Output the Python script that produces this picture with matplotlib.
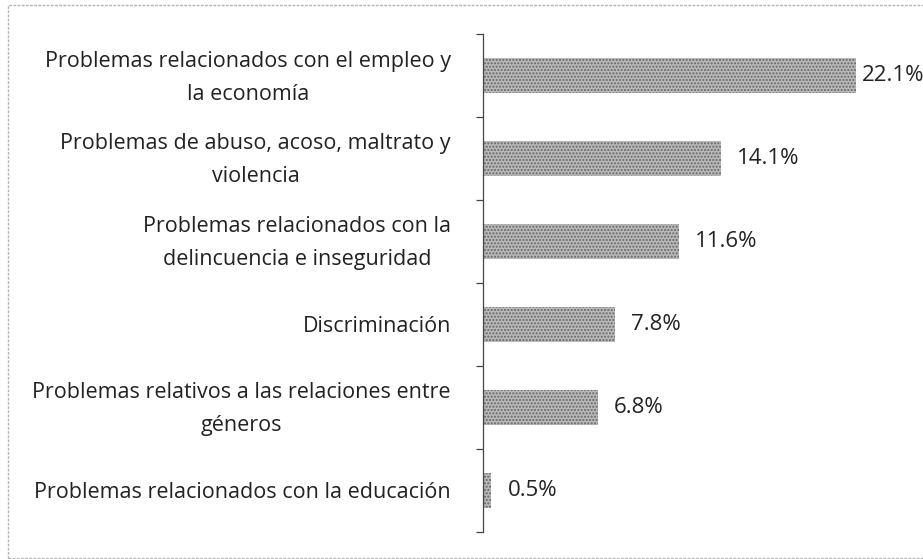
import matplotlib
matplotlib.use("Agg")
import matplotlib.pyplot as plt
from matplotlib.patches import Rectangle

categories = [
    "Problemas relacionados con el empleo y\nla economía",
    "Problemas de abuso, acoso, maltrato y\nviolencia",
    "Problemas relacionados con la\ndelincuencia e inseguridad",
    "Discriminación",
    "Problemas relativos a las relaciones entre\ngéneros",
    "Problemas relacionados con la educación",
]
values = [22.1, 14.1, 11.6, 7.8, 6.8, 0.5]
value_labels = ["22.1%", "14.1%", "11.6%", "7.8%", "6.8%", "0.5%"]

plt.rcParams['font.family'] = ['Open Sans', 'DejaVu Sans']
FS = 15.5
FSV = 16
W, H = 923, 559
fig = plt.figure(figsize=(W / 100, H / 100), dpi=100)

ax_left, ax_right, ax_top, ax_bottom = 483, 923, 34, 532
ax = fig.add_axes([ax_left / W, (H - ax_bottom) / H, (ax_right - ax_left) / W, (ax_bottom - ax_top) / H])

ypos = list(range(len(categories)))
ax.barh(ypos, values, height=0.41, color='#b9b9b9', edgecolor='#666666',
        hatch='.....', linewidth=0)
ax.set_xlim(0, (ax_right - ax_left) / 16.9)
ax.set_ylim(len(categories) - 0.5, -0.5)

for i, (y, v, lab) in enumerate(zip(ypos, values, value_labels)):
    off = 5 if i == 0 else 16
    ax.annotate(lab, xy=(v, y), xytext=(off, 0), textcoords='offset pixels',
                va='center', ha='left', fontsize=FSV, color='#222222',
                annotation_clip=False)

ax.set_yticks(ypos)
ax.set_yticklabels([])
ax.tick_params(axis='y', which='major', length=0)
ax.set_yticks([y - 0.5 for y in ypos] + [len(ypos) - 0.5], minor=True)
ax.tick_params(axis='y', which='minor', length=5, width=0.9, color='#444444', direction='out')
ax.set_xticks([])
for s in ['top', 'right', 'bottom']:
    ax.spines[s].set_visible(False)
ax.spines['left'].set_color('#444444')
ax.spines['left'].set_linewidth(0.9)

for y, c in zip(ypos, categories):
    ax.annotate(c, xy=(0, y), xycoords=('axes fraction', 'data'),
                xytext=(-32, -2), textcoords='offset pixels',
                ha='right', va='center', multialignment='center',
                fontsize=FS, color='#222222', linespacing=1.75)

fig.patches.append(Rectangle((8 / W, 1 / H), (W - 6) / W, (H - 6) / H, transform=fig.transFigure,
                             fill=False, edgecolor='#b5b5b5', linewidth=1.0, linestyle=(0, (2, 1))))

fig.savefig('out.png', dpi=100)
